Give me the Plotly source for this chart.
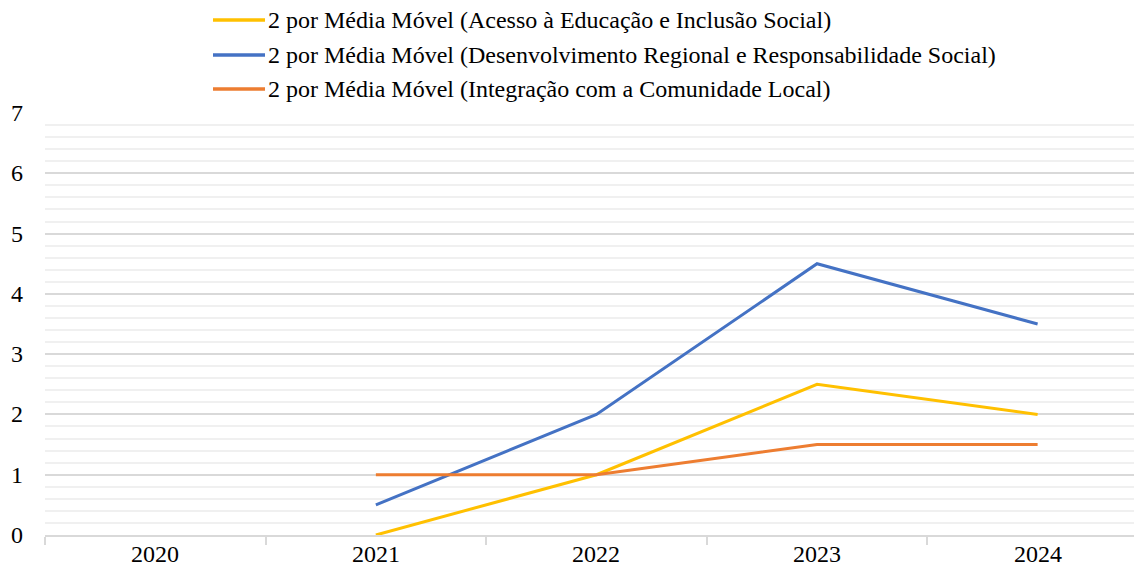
import plotly.graph_objects as go

years = ["2020", "2021", "2022", "2023", "2024"]

acesso = [None, 0, 1, 2.5, 2]
desenvolvimento = [None, 0.5, 2, 4.5, 3.5]
integracao = [None, 1, 1, 1.5, 1.5]

series_names = [
    "2 por Média Móvel (Acesso à Educação e Inclusão Social)",
    "2 por Média Móvel (Desenvolvimento Regional e Responsabilidade Social)",
    "2 por Média Móvel (Integração com a Comunidade Local)",
]
series_values = [acesso, desenvolvimento, integracao]
series_colors = ["#FFC000", "#4472C4", "#ED7D31"]

y_ticks = [0, 1, 2, 3, 4, 5, 6, 7]

FONT = "Times New Roman"
W, H = 1134, 572
L, R, T, B = 45, 0, 113, 37
plot_w, plot_h = W - L - R, H - T - B


def px_x(px):
    return (px - L) / plot_w


def px_y(py):
    return (H - B - py) / plot_h


fig = go.Figure()
for name, vals, color in zip(series_names, series_values, series_colors):
    fig.add_trace(go.Scatter(
        x=years, y=vals, name=name, mode="lines",
        line=dict(color=color, width=3),
        showlegend=False,
    ))

# Legend: a short coloured stroke followed by the series name, one row per series
legend_rows_px = [20, 55, 89]
for name, color, row in zip(series_names, series_colors, legend_rows_px):
    fig.add_shape(type="line", xref="paper", yref="paper",
                  x0=px_x(213), x1=px_x(265), y0=px_y(row), y1=px_y(row),
                  line=dict(color=color, width=3.5))
    fig.add_annotation(xref="paper", yref="paper", x=px_x(266), y=px_y(row),
                       xanchor="left", yanchor="middle", text=name, showarrow=False,
                       font=dict(family=FONT, size=24))

# Category labels under the axis (positioned by category index)
for i, yr in enumerate(years):
    fig.add_annotation(xref="x", yref="paper", x=i, y=0, yshift=-19,
                       xanchor="center", yanchor="middle", text=yr, showarrow=False,
                       font=dict(family=FONT, size=24))

# Value labels left of the plot
for v in y_ticks:
    fig.add_annotation(xref="paper", yref="y", x=0, y=v, xshift=-28,
                       xanchor="center", yanchor="middle", text=str(v), showarrow=False,
                       font=dict(family=FONT, size=24))

fig.update_layout(
    width=W, height=H,
    margin=dict(l=L, r=R, t=T, b=B),
    paper_bgcolor="white", plot_bgcolor="white",
    font=dict(family=FONT, size=24, color="#000000"),
    showlegend=False,
    xaxis=dict(
        type="category",
        range=[-0.5, 4.437],
        showgrid=False,
        showline=True, linecolor="#D9D9D9", linewidth=1.5,
        ticks="outside", tickson="boundaries", ticklen=8,
        tickcolor="#D9D9D9", tickwidth=1.5,
        showticklabels=False,
        zeroline=False,
    ),
    yaxis=dict(
        range=[0, 7],
        tickvals=y_ticks,
        showgrid=True, gridcolor="#D9D9D9", gridwidth=1.5,
        minor=dict(dtick=0.2, showgrid=True, gridcolor="#F0F0F0", gridwidth=1.5),
        zeroline=False, showline=False,
        ticks="", showticklabels=False,
    ),
)

fig.write_html("out.html")
